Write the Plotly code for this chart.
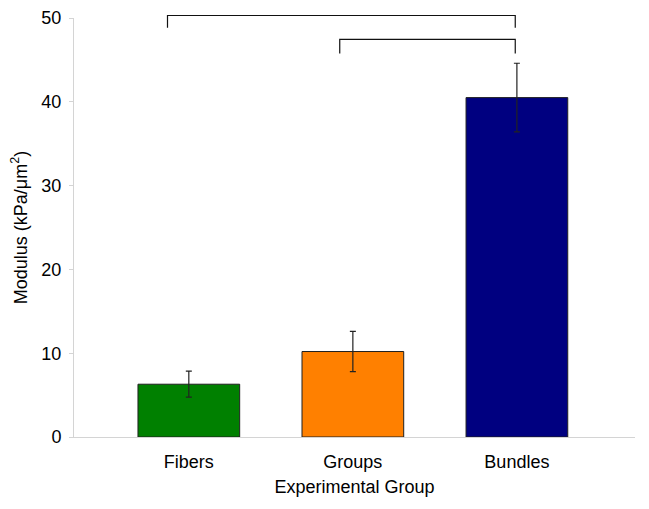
import plotly.graph_objects as go

groups = ["Fibers", "Groups", "Bundles"]
modulus = [6.3, 10.2, 40.5]
err = [1.55, 2.4, 4.1]
colors = ["#008000", "#FF8000", "#000080"]

# significance brackets: (left x, right x) in category units
brackets = [(-0.13, 1.99), (0.92, 1.99)]

fig = go.Figure()

fig.add_trace(go.Bar(
    x=list(range(len(groups))), y=modulus,
    width=0.62,
    marker=dict(color=colors, line=dict(color="#202020", width=1)),
    error_y=dict(type="data", array=err, visible=True,
                 color="#222222", thickness=1.2, width=3),
    showlegend=False,
))

# bracket levels in paper units (top line, tick end)
levels = [(1.006, 0.977), (0.949, 0.915)]
for (x0, x1), (ytop, ybot) in zip(brackets, levels):
    fig.add_shape(type="path", xref="x", yref="paper",
                  path=f"M {x0},{ybot} L {x0},{ytop} L {x1},{ytop} L {x1},{ybot}",
                  line=dict(color="#111111", width=1.2))

fig.update_layout(
    width=649, height=509,
    margin=dict(l=74, r=14, t=17.5, b=72),
    plot_bgcolor="white", paper_bgcolor="white",
    font=dict(family="Liberation Sans, Arial", size=18, color="black"),
    xaxis=dict(
        range=[-0.70, 2.72], automargin=False,
        tickvals=list(range(len(groups))), ticktext=groups,
        tickfont=dict(size=18),
        showline=True, linecolor="#d4d4d4", linewidth=1,
        ticks="", showgrid=False, zeroline=False,
        ticklabelstandoff=8,
        title=dict(text="Experimental Group", standoff=9, font=dict(size=18)),
    ),
    yaxis=dict(
        range=[0, 50], tickvals=[0, 10, 20, 30, 40, 50], automargin=False,
        tickfont=dict(size=18),
        showline=True, linecolor="#d4d4d4", linewidth=1,
        ticks="outside", ticklen=4, tickcolor="#d4d4d4",
        showgrid=False, zeroline=False,
        ticklabelstandoff=4,
        title=dict(text="Modulus (kPa/μm<sup>2</sup>)", standoff=9, font=dict(size=18)),
    ),
)

# drop the browser's default 8px body margin so the figure sits at 0,0
fig.write_html("out.html", config={"displayModeBar": False},
               post_script="document.body.style.margin='0';")
